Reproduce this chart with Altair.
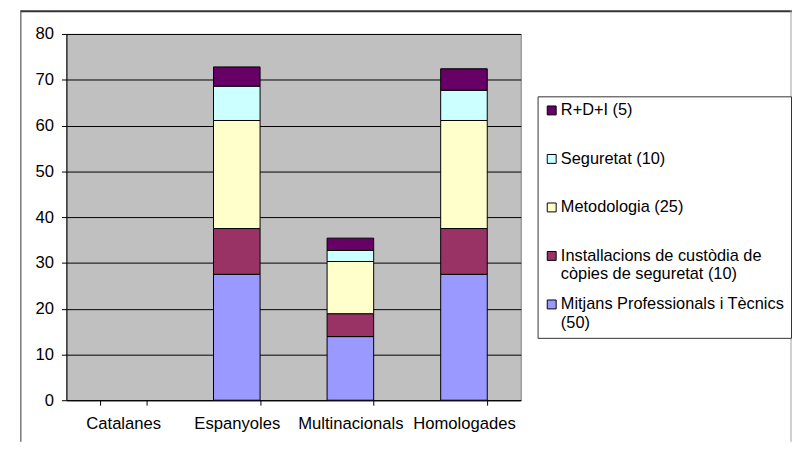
import json
import altair as alt
import pandas as pd

# ---- data ----
categories = ["Catalanes", "Espanyoles", "Multinacionals", "Homologades"]

# series listed bottom (first) to top (last) of each stack
series_names = [
    "Mitjans Professionals i Tècnics (50)",
    "Installacions de custòdia de còpies de seguretat (10)",
    "Metodologia (25)",
    "Seguretat (10)",
    "R+D+I (5)",
]
series_label_lines = [
    ["Mitjans Professionals i Tècnics", "(50)"],
    ["Installacions de custòdia de", "còpies de seguretat (10)"],
    ["Metodologia (25)", ""],
    ["Seguretat (10)", ""],
    ["R+D+I (5)", ""],
]
series_colors = ["#9999FF", "#993366", "#FFFFCC", "#CCFFFF", "#660066"]

mitjans = [0, 27.5, 13.9, 27.5]
installacions = [0, 10.0, 5.0, 10.0]
metodologia = [0, 23.6, 11.4, 23.6]
seguretat = [0, 7.5, 2.4, 6.6]
rdi = [0, 4.2, 2.7, 4.7]

y_ticks = [0, 10, 20, 30, 40, 50, 60, 70, 80]

series_values = [mitjans, installacions, metodologia, seguretat, rdi]

rows = []
for s_idx, (name, vals) in enumerate(zip(series_names, series_values)):
    for cat, v in zip(categories, vals):
        rows.append({"categoria": cat, "serie": name, "valor": v, "ordre": s_idx})
df = pd.DataFrame(rows)

# legend: top of stack first
legend_domain = list(reversed(series_names))
legend_range = list(reversed(series_colors))

# label expression producing two-line labels
expr = "[datum.label, '']"
for name, lines in zip(series_names, series_label_lines):
    expr = (
        f"datum.label == {json.dumps(name, ensure_ascii=False)} ? "
        f"{json.dumps(lines, ensure_ascii=False)} : ({expr})"
    )

FONT = "Liberation Sans"

bars = (
    alt.Chart(df)
    .transform_filter("datum.valor > 0")
    .mark_bar(stroke="black", strokeWidth=1)
    .encode(
        x=alt.X(
            "categoria:N",
            scale=alt.Scale(domain=categories, paddingInner=0.59, paddingOuter=0.295),
            axis=alt.Axis(
                title=None,
                labelAngle=0,
                tickBand="extent",
                grid=False,
                labelFont=FONT,
                labelFontSize=16.8,
                labelColor="black",
                domainColor="black",
                tickColor="black",
                tickSize=5,
                labelPadding=11,
            ),
        ),
        y=alt.Y(
            "valor:Q",
            stack="zero",
            scale=alt.Scale(domain=[0, 80], nice=False),
            axis=alt.Axis(
                title=None,
                values=y_ticks,
                grid=True,
                gridColor="black",
                gridWidth=1,
                labelFont=FONT,
                labelFontSize=16.8,
                labelColor="black",
                domainColor="black",
                tickColor="black",
                tickSize=5,
                labelPadding=8,
            ),
        ),
        color=alt.Color(
            "serie:N",
            scale=alt.Scale(domain=legend_domain, range=legend_range),
            legend=alt.Legend(
                title=None,
                orient="none",
                legendX=476,
                legendY=63,
                direction="vertical",
                symbolType="square",
                symbolSize=81,
                symbolStrokeColor="black",
                symbolStrokeWidth=1,
                labelFont=FONT,
                labelFontSize=16.5,
                labelColor="black",
                labelBaseline="middle",
                labelLimit=400,
                labelOffset=1,
                rowPadding=13,
                padding=6,
                strokeColor="#333333",
                fillColor="white",
                labelExpr=expr,
            ),
        ),
        order=alt.Order("ordre:Q", sort="ascending"),
    )
)

frame_df = pd.DataFrame({"k": [0]})
frame_left = alt.Chart(frame_df).mark_rule(color="#333333", strokeWidth=1).encode(
    x=alt.value(-46), y=alt.value(-24), y2=alt.value(412)
)
frame_top = alt.Chart(frame_df).mark_rule(color="#333333", strokeWidth=2).encode(
    x=alt.value(-46), x2=alt.value(733), y=alt.value(-23)
)
frame_right = alt.Chart(frame_df).mark_rule(color="#A0A0A0", strokeWidth=1).encode(
    x=alt.value(732), y=alt.value(-24), y2=alt.value(412)
)

chart = (
    alt.layer(bars, frame_left, frame_top, frame_right)
    .properties(
        width=459,
        height=370,
        padding={"left": 59, "top": 24, "right": 274, "bottom": 42},
        autosize=alt.AutoSizeParams(type="none"),
        background="white",
    )
    .configure_view(fill="#C0C0C0", stroke="#808080", strokeWidth=1)
)

chart.save("out.html", embed_options={"renderer": "svg", "actions": False})
